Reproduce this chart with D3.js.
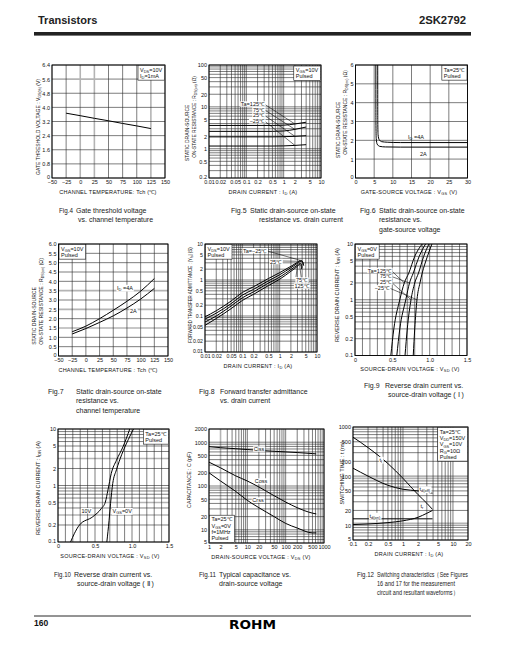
<!DOCTYPE html>
<html><head><meta charset="utf-8">
<script src="https://cdn.jsdelivr.net/npm/d3@7/dist/d3.min.js"></script>
<style>html,body{margin:0;padding:0;background:#fff;}svg{display:block;}</style>
</head><body>
<script>
// ---------------- DATA ----------------
// Fig.4
const fig4Temp = [-25, 0, 25, 50, 75, 100, 125];
const fig4Vth = [3.67, 3.53, 3.38, 3.24, 3.09, 2.95, 2.80];
const tempTicks = [-50, -25, 0, 25, 50, 75, 100, 125, 150];
const tempTickLabels = ["−50", "−25", "0", "25", "50", "75", "100", "125", "150"];
const fig4YTicks = [0, 0.8, 1.6, 2.4, 3.2, 4.0, 4.8, 5.6, 6.4];
const fig4YLabels = ["0", "0.8", "1.6", "2.4", "3.2", "4.0", "4.8", "5.6", "6.4"];
// Fig.5
const fig5Id = [0.01, 0.5, 1, 2, 4];
const fig5R125 = [3.6, 3.6, 3.65, 3.9, 4.3];
const fig5R75 = [2.6, 2.6, 2.65, 2.9, 3.3];
const fig5R25 = [1.92, 1.92, 1.94, 1.98, 2.05];
const fig5Rm25 = [1.16, 1.16, 1.17, 1.2, 1.25];
const fig5Names = ["Ta=125℃", "75℃", "25℃", "−25℃"];
const idTicks3 = [0.01, 0.02, 0.05, 0.1, 0.2, 0.5, 1, 2, 5, 10];
const idTickLabels3 = ["0.01", "0.02", "0.05", "0.1", "0.2", "0.5", "1", "2", "5", "10"];
const fig5YTicks = [0.2, 0.5, 1, 2, 5, 10, 20, 50, 100];
const fig5YLabels = ["0.2", "0.5", "1", "2", "5", "10", "20", "50", "100"];
// Fig.6
const fig6Vgs4A = [5.95, 5.97, 6.05, 6.3, 7, 8.5, 12, 30];
const fig6R4A = [6, 3, 2.3, 2.05, 1.93, 1.9, 1.88, 1.88];
const fig6Vgs2A = [5.45, 5.47, 5.55, 5.8, 6.5, 8, 12, 30];
const fig6R2A = [6, 3, 2.1, 1.8, 1.68, 1.65, 1.64, 1.64];
const fig6XTicks = [0, 5, 10, 15, 20, 25, 30];
const fig6XLabels = ["0", "5", "10", "15", "20", "25", "30"];
const fig6YTicks = [0, 1, 2, 3, 4, 5, 6];
const fig6YLabels = ["0", "1", "2", "3", "4", "5", "6"];
// Fig.7
const fig7Temp = [-25, 0, 25, 50, 75, 100, 125];
const fig7R4A = [1.30, 1.60, 2.00, 2.45, 2.93, 3.47, 4.15];
const fig7R2A = [1.18, 1.47, 1.80, 2.15, 2.57, 3.05, 3.62];
const fig7YTicks = [0, 0.5, 1, 1.5, 2, 2.5, 3, 3.5, 4, 4.5, 5, 5.5, 6];
const fig7YLabels = ["0", "0.5", "1.0", "1.5", "2.0", "2.5", "3.0", "3.5", "4.0", "4.5", "5.0", "5.5", "6.0"];
// Fig.8
const fig8Idm25 = [0.01, 0.02, 0.05, 0.1, 0.2, 0.5, 1, 2, 3, 3.6, 4.0, 4.3];
const fig8Ym25 = [0.095, 0.14, 0.26, 0.45, 0.65, 1.1, 1.6, 2.4, 3.1, 3.5, 3.4, 2.6];
const fig8Id25 = [0.01, 0.02, 0.05, 0.1, 0.2, 0.5, 1, 2, 3, 3.7, 4.1, 4.4];
const fig8Y25 = [0.082, 0.12, 0.22, 0.38, 0.55, 0.95, 1.4, 2.2, 2.9, 3.3, 3.2, 2.5];
const fig8Id75 = [0.01, 0.02, 0.05, 0.1, 0.2, 0.5, 1, 2, 3, 3.5, 3.8, 4.0];
const fig8Y75 = [0.068, 0.10, 0.19, 0.32, 0.47, 0.82, 1.2, 1.95, 2.6, 2.9, 2.8, 2.2];
const fig8Id125 = [0.01, 0.02, 0.05, 0.1, 0.2, 0.5, 1, 2, 3, 3.4, 3.7, 3.9];
const fig8Y125 = [0.055, 0.085, 0.16, 0.27, 0.40, 0.70, 1.05, 1.75, 2.4, 2.7, 2.6, 2.0];
const fig8YTicks = [0.01, 0.02, 0.05, 0.1, 0.2, 0.5, 1, 2, 5, 10];
const fig8YLabels = ["0.01", "0.02", "0.05", "0.1", "0.2", "0.5", "1", "2", "5", "10"];
// Fig.9  (x = VSD, y = IDR)
const fig9V125 = [0.48, 0.52, 0.60, 0.66, 0.72, 0.80, 0.90];
const fig9V75 = [0.56, 0.60, 0.68, 0.73, 0.78, 0.86, 0.945];
const fig9V25 = [0.67, 0.70, 0.75, 0.80, 0.85, 0.92, 0.99];
const fig9Vm25 = [0.78, 0.80, 0.83, 0.87, 0.90, 0.97, 1.03];
const fig9I = [0.1, 0.3, 1, 2, 3, 6, 10];
const vsdTicks = [0, 0.5, 1.0, 1.5];
const vsdTickLabels = ["0", "0.5", "1.0", "1.5"];
const idrTicks = [0.1, 0.2, 0.5, 1, 2, 5, 10];
const idrTickLabels = ["0.1", "0.2", "0.5", "1", "2", "5", "10"];
// Fig.10
const fig10V0 = [0.66, 0.69, 0.71, 0.74, 0.79, 0.86, 0.95, 1.02];
const fig10I0 = [0.1, 0.24, 0.48, 1.09, 1.9, 3.5, 6.5, 10];
const fig10V10 = [0.17, 0.22, 0.29, 0.47, 0.585, 0.64, 0.675, 0.72, 0.79, 0.88, 0.97];
const fig10I10 = [0.1, 0.14, 0.2, 0.28, 0.39, 0.51, 0.83, 1.64, 2.8, 4.9, 10];
// Fig.11
const fig11Vds = [1, 2, 5, 10, 20, 50, 100, 200, 500, 630];
const fig11Ciss = [790, 750, 710, 680, 650, 620, 600, 580, 550, 540];
const fig11Coss = [350, 260, 170, 130, 95, 60, 43, 32, 24, 23];
const fig11Crss = [200, 130, 75, 47, 32, 20, 14, 11, 8.5, 8.5];
const fig11XTicks = [1, 2, 5, 10, 20, 50, 100, 200, 500, 1000];
const fig11XLabels = ["1", "2", "5", "10", "20", "50", "100", "200", "500", "1000"];
const fig11YTicks = [5, 10, 20, 50, 100, 200, 500, 1000, 2000];
const fig11YLabels = ["5", "10", "20", "50", "100", "200", "500", "1000", "2000"];
// Fig.12
const fig12Id = [0.1, 0.2, 0.5, 1, 2, 3, 3.9];
const fig12Tf = [620, 380, 180, 90, 42, 28, 21];
const fig12Tdoff = [145, 100, 65, 54, 50, 47, 45];
const fig12Tr = [10.3, 10.6, 11.3, 12.3, 14.5, 17.5, 20];
const fig12Tdon = [13.5, 13.5, 13.5, 13.5, 13.5, 13.5, 13.5];
const fig12XTicks = [0.1, 0.2, 0.5, 1, 2, 5, 10, 20];
const fig12XLabels = ["0.1", "0.2", "0.5", "1", "2", "5", "10", "20"];
const fig12YTicks = [5, 10, 20, 50, 100, 200, 500, 1000];
const fig12YLabels = ["5", "10", "20", "50", "100", "200", "500", "1000"];

// ---------------- HELPERS ----------------
const FONT = "'Liberation Sans', Arial, Helvetica, sans-serif";
const TS = 5.5; // small text size
const svg = d3.select("body").append("svg").attr("width", 505).attr("height", 649);
svg.append("rect").attr("width", 505).attr("height", 649).attr("fill", "#fff");

function zip(a, b) { return a.map((v, i) => [v, b[i]]); }

function logGrid(lo, hi) {
  const v = [];
  const e0 = Math.floor(Math.log10(lo) + 1e-9), e1 = Math.ceil(Math.log10(hi));
  for (let e = e0; e <= e1; e++) for (let m = 1; m <= 9; m++) {
    const val = +(m * Math.pow(10, e)).toPrecision(6);
    if (val >= lo * 0.9999 && val <= hi * 1.0001) v.push(val);
  }
  return v;
}

function richText(parent, str, size, attrs) {
  const t = parent.append("text").attr("font-family", FONT).attr("font-size", size).attr("fill", "#111");
  Object.entries(attrs || {}).forEach(([k, v]) => t.attr(k, v));
  const parts = str.split(/(_\{[^}]*\})/).filter(s => s.length);
  let sub = false;
  parts.forEach(p => {
    if (p.startsWith("_{")) {
      t.append("tspan").attr("font-size", size * 0.72).attr("dy", size * 0.25).text(p.slice(2, -1));
      sub = true;
    } else {
      const ts = t.append("tspan").text(p);
      if (sub) { ts.attr("dy", -size * 0.25); sub = false; }
    }
  });
  return t;
}

function bgLabel(g, x, y, str, anchor, size) {
  const t = richText(g, str, size || TS, { x: x, y: y, "text-anchor": anchor || "start" });
  const b = t.node().getBBox();
  g.insert("rect", () => t.node()).attr("x", b.x - 0.6).attr("y", b.y + 0.3)
    .attr("width", b.width + 1.2).attr("height", b.height - 0.6).attr("fill", "#fff");
  return t;
}

function legendBox(g, lines, x, y, anchor) {
  const grp = g.append("g");
  const lh = TS * 1.15;
  const texts = lines.map((s, i) => richText(grp, s, TS, { x: 2, y: (i + 1) * lh - 0.3 }));
  const w = d3.max(texts, t => t.node().getBBox().width) + 4;
  const h = lines.length * lh + 2;
  let bx = x, by = y;
  if (anchor === "tr") bx = x - w;
  if (anchor === "bl") by = y - h;
  grp.insert("rect", ":first-child").attr("width", w).attr("height", h)
    .attr("fill", "#fff").attr("stroke", "#111").attr("stroke-width", 0.6);
  grp.attr("transform", `translate(${bx},${by})`);
}

function panel(o) {
  const g = svg.append("g");
  const x = (o.xlog ? d3.scaleLog() : d3.scaleLinear()).domain(o.xd).range([o.l, o.r]);
  const y = (o.ylog ? d3.scaleLog() : d3.scaleLinear()).domain(o.yd).range([o.b, o.t]);
  const xg = o.xgrid || (o.xlog ? logGrid(o.xd[0], o.xd[1]) : o.xt);
  const yg = o.ygrid || (o.ylog ? logGrid(o.yd[0], o.yd[1]) : o.yt);
  // soft (greyish, scanned-looking) grid lines
  const soft = g.append("g").attr("stroke", "#b4b4b4").attr("stroke-width", 1.6);
  soft.selectAll("line.v").data(o.xsoft || []).join("line").attr("class", "v")
    .attr("x1", d => x(d)).attr("x2", d => x(d)).attr("y1", o.t).attr("y2", o.b);
  soft.selectAll("line.h").data(o.ysoft || []).join("line").attr("class", "h")
    .attr("y1", d => y(d)).attr("y2", d => y(d)).attr("x1", o.l).attr("x2", o.r);
  const grid = g.append("g").attr("stroke", "#262626").attr("stroke-width", 0.6);
  grid.selectAll("line.v").data(xg.filter(d => !(o.xsoft || []).includes(d))).join("line").attr("class", "v")
    .attr("x1", d => x(d)).attr("x2", d => x(d)).attr("y1", o.t).attr("y2", o.b);
  grid.selectAll("line.h").data(yg.filter(d => !(o.ysoft || []).includes(d))).join("line").attr("class", "h")
    .attr("y1", d => y(d)).attr("y2", d => y(d)).attr("x1", o.l).attr("x2", o.r);
  const ax = g.append("g").attr("transform", `translate(0,${o.b})`)
    .call(d3.axisBottom(x).tickValues(o.xt).tickFormat((d, i) => o.xl[i]).tickSize(0).tickPadding(2.5));
  const ay = g.append("g").attr("transform", `translate(${o.l},0)`)
    .call(d3.axisLeft(y).tickValues(o.yt).tickFormat((d, i) => o.yl[i]).tickSize(0).tickPadding(2));
  [ax, ay].forEach(a => {
    a.select(".domain").remove();
    a.selectAll("text").attr("font-family", FONT).attr("font-size", o.ts || TS).attr("fill", "#111");
  });
  ay.selectAll("text").attr("dy", (d, i) => i === 0 ? "0.1em" : "0.35em");
  g.append("rect").attr("x", o.l).attr("y", o.t).attr("width", o.r - o.l).attr("height", o.b - o.t)
    .attr("fill", "none").attr("stroke", "#000").attr("stroke-width", 0.9);
  // axis titles
  richText(g, o.xTitle, TS, { x: o.xtX, y: o.b + 15.5, "text-anchor": "middle", "letter-spacing": 0.25 });
  o.yTitles.forEach(yt => {
    const t = richText(g, yt.s, TS, { "text-anchor": "middle" });
    const k = yt.len ? Math.min(1, yt.len / t.node().getBBox().width) : 1;
    t.attr("transform", `translate(${yt.x},${yt.c}) rotate(-90) scale(${k})`);
  });
  const curves = g.append("g");
  const line = d3.line().x(d => x(d[0])).y(d => y(d[1])).curve(d3.curveMonotoneX);
  return { g, x, y, curves, line };
}

function drawCurve(p, pts, color, width) {
  p.curves.append("path").attr("d", p.line(pts)).attr("fill", "none")
    .attr("stroke", color || "#000").attr("stroke-width", width || 1.0);
}

function leader(p, x1, y1, pt) {
  p.g.append("line").attr("x1", x1).attr("y1", y1).attr("x2", p.x(pt[0])).attr("y2", p.y(pt[1]))
    .attr("stroke", "#000").attr("stroke-width", 0.55);
}

function fitWidth(t, w) {
  const cur = t.node().getComputedTextLength();
  if (w && cur > w) t.attr("textLength", w).attr("lengthAdjust", "spacingAndGlyphs");
}

function caption(fx, tx, y0, fig, lines, indents, widths) {
  const g = svg.append("g").attr("font-family", FONT).attr("font-size", 7).attr("fill", "#222");
  const f = g.append("text").attr("x", fx).attr("y", y0).text(fig);
  fitWidth(f, tx - fx - 3);
  lines.forEach((s, i) => {
    const t = g.append("text").attr("x", tx + (indents ? indents[i] : 0)).attr("y", y0 + i * 9.3).text(s);
    if (widths) t.attr("textLength", widths[i]).attr("lengthAdjust", "spacingAndGlyphs");
  });
}

// ---------------- HEADER / FOOTER ----------------
svg.append("text").attr("x", 38).attr("y", 24).attr("font-family", FONT).attr("font-weight", "bold")
  .attr("font-size", 11).attr("fill", "#222").text("Transistors");
svg.append("text").attr("x", 466).attr("y", 24).attr("text-anchor", "end").attr("font-family", FONT)
  .attr("font-weight", "bold").attr("font-size", 11.3).attr("fill", "#222").text("2SK2792");
svg.append("rect").attr("x", 34).attr("y", 32).attr("width", 437).attr("height", 3.6).attr("fill", "#222");
svg.append("line").attr("x1", 34).attr("x2", 471).attr("y1", 616).attr("y2", 616).attr("stroke", "#111").attr("stroke-width", 0.9);
svg.append("text").attr("x", 34).attr("y", 626).attr("font-family", FONT).attr("font-weight", "bold")
  .attr("font-size", 8.5).attr("fill", "#111").text("160");
svg.append("text").attr("x", 229).attr("y", 629.3).attr("font-family", "'DejaVu Sans', sans-serif").attr("font-weight", "bold")
  .attr("font-size", 11.8).attr("textLength", 47).attr("lengthAdjust", "spacingAndGlyphs").attr("fill", "#000").text("ROHM");

// ---------------- FIG.4 ----------------
const p4 = panel({ l: 52, r: 165, t: 65, b: 178, xd: [-50, 150], yd: [0, 6.4],
  xt: tempTicks, xl: tempTickLabels, yt: fig4YTicks, yl: fig4YLabels, xsoft: [0, 25, 125], ysoft: [5.6],
  xTitle: "CHANNEL TEMPERATURE: Tch (℃)", xtX: 108,
  yTitles: [{ s: "GATE THRESHOLD VOLTAGE : V_{GS(th)} (V)", x: 39.5, c: 127, len: 96 }] });
drawCurve(p4, zip(fig4Temp, fig4Vth));
legendBox(p4.g, ["V_{DS}=10V", "I_{D}=1mA"], 164.5, 65.5, "tr");
caption(59, 76, 213, "Fig.4", ["Gate threshold voltage", "vs. channel temperature"], [0, 2]);

// ---------------- FIG.5 ----------------
const p5 = panel({ l: 209, r: 321, t: 65, b: 178, xlog: true, ylog: true, xd: [0.01, 10], yd: [0.2, 100],
  xt: idTicks3, xl: idTickLabels3, yt: fig5YTicks, yl: fig5YLabels,
  xTitle: "DRAIN CURRENT : I_{D} (A)", xtX: 263,
  yTitles: [{ s: "STATIC DRAIN-SOURCE", x: 189, c: 133, len: 57 }, { s: "ON-STATE RESISTANCE : R_{DS(on)} (Ω)", x: 195.5, c: 117, len: 82 }] });
const fig5All = [fig5R125, fig5R75, fig5R25, fig5Rm25];
fig5All.forEach(r => drawCurve(p5, zip(fig5Id, r)));
fig5Names.forEach((n, i) => {
  const yy = 106 + i * 5.6;
  leader(p5, 264.5, yy - 1.8, [fig5Id[3], fig5All[i][3]]);
  bgLabel(p5.g, 264, yy, n, "end");
});
legendBox(p5.g, ["V_{GS}=10V", "Pulsed"], 320.5, 66, "tr");
caption(231, 250, 213, "Fig.5", ["Static drain-source on-state", "resistance vs. drain current"], [0, 9]);

// ---------------- FIG.6 ----------------
const p6 = panel({ l: 355.5, r: 467.5, t: 65, b: 178, xd: [0, 30], yd: [0, 6],
  xt: fig6XTicks, xl: fig6XLabels, yt: fig6YTicks, yl: fig6YLabels, ysoft: [1],
  xTitle: "GATE-SOURCE VOLTAGE : V_{GS} (V)", xtX: 409,
  yTitles: [{ s: "STATIC DRAIN-SOURCE", x: 339.5, c: 130, len: 57 }, { s: "ON-STATE RESISTANCE : R_{DS(on)} (Ω)", x: 347, c: 112.5, len: 85 }] });
drawCurve(p6, zip(fig6Vgs4A, fig6R4A));
drawCurve(p6, zip(fig6Vgs2A, fig6R2A));
richText(p6.g, "I_{D} =4A", TS, { x: 408, y: 139 });
richText(p6.g, "2A", TS, { x: 420, y: 156 });
legendBox(p6.g, ["Ta=25℃", "Pulsed"], 467, 65.5, "tr");
caption(360, 379, 213, "Fig.6", ["Static drain-source on-state", "resistance vs.", "gate-source voltage"]);

// ---------------- FIG.7 ----------------
const p7 = panel({ l: 58.5, r: 168, t: 244, b: 356, xd: [-50, 150], yd: [0, 6],
  xt: tempTicks, xl: tempTickLabels, yt: fig7YTicks, yl: fig7YLabels, ysoft: [1.5, 2.5, 3.5],
  xTitle: "CHANNEL TEMPERATURE : Tch (℃)", xtX: 108,
  yTitles: [{ s: "STATIC DRAIN-SOURCE", x: 36, c: 316, len: 58 }, { s: "ON-STATE RESISTANCE : R_{DS(on)} (Ω)", x: 42.5, c: 301.5, len: 87 }] });
drawCurve(p7, zip(fig7Temp, fig7R4A));
drawCurve(p7, zip(fig7Temp, fig7R2A));
bgLabel(p7.g, 117, 289.5, "I_{D} =4A", "start");
bgLabel(p7.g, 130, 313, "2A", "start");
legendBox(p7.g, ["V_{GS}=10V", "Pulsed"], 59, 244.5, "tl");
caption(48, 76, 394, "Fig.7", ["Static drain-source on-state", "resistance vs.", "channel temperature"]);

// ---------------- FIG.8 ----------------
const p8 = panel({ l: 205, r: 317, t: 244, b: 352, xlog: true, ylog: true, xd: [0.01, 10], yd: [0.01, 10],
  xt: idTicks3, xl: idTickLabels3, yt: fig8YTicks, yl: fig8YLabels, ysoft: [0.07, 0.8], ts: 5.2,
  xTitle: "DRAIN CURRENT : I_{D} (A)", xtX: 258,
  yTitles: [{ s: "FORWARD TRANSFER ADMITTANCE : |Y_{fs}| (S)", x: 191.5, c: 295, len: 96 }] });
drawCurve(p8, zip(fig8Idm25, fig8Ym25));
drawCurve(p8, zip(fig8Id25, fig8Y25));
drawCurve(p8, zip(fig8Id75, fig8Y75));
drawCurve(p8, zip(fig8Id125, fig8Y125));
leader(p8, 267.5, 251, [fig8Idm25[9], fig8Ym25[9]]);
leader(p8, 282.5, 261, [fig8Id25[9], fig8Y25[9]]);
leader(p8, 296, 277, [fig8Id75[8], fig8Y75[8]]);
leader(p8, 302, 283, [fig8Id125[9], fig8Y125[9]]);
bgLabel(p8.g, 243, 252.7, "Ta=−25℃", "start");
bgLabel(p8.g, 270, 263.5, "25℃", "start");
bgLabel(p8.g, 296, 282, "75℃", "start");
bgLabel(p8.g, 294.5, 288, "125℃", "start");
legendBox(p8.g, ["V_{DS}=10V", "Pulsed"], 205.5, 244.5, "tl");
caption(199, 220, 394, "Fig.8", ["Forward transfer admittance", "vs. drain current"]);

// ---------------- FIG.9 ----------------
const p9 = panel({ l: 355, r: 467, t: 244, b: 355.5, ylog: true, xd: [0, 1.5], yd: [0.1, 10],
  xt: vsdTicks, xl: vsdTickLabels, yt: idrTicks, yl: idrTickLabels, xgrid: d3.range(0, 1.51, 0.1), ysoft: [3],
  xTitle: "SOURCE-DRAIN VOLTAGE : V_{SD} (V)", xtX: 410,
  yTitles: [{ s: "REVERSE DRAIN CURRENT : I_{DR} (A)", x: 338.5, c: 295, len: 103 }] });
const fig9All = [fig9V125, fig9V75, fig9V25, fig9Vm25];
fig9All.forEach(v => drawCurve(p9, zip(v, fig9I)));
const fig9Names = ["Ta=125℃", "75℃", "25℃", "−25℃"];
const fig9LabX = [391, 391, 391, 389];
const fig9Target = [3, 3, 2, 2];
fig9Names.forEach((n, i) => {
  const yy = 272.5 + i * 5.8;
  leader(p9, fig9LabX[i] + 0.5, yy - 1.8, [fig9All[i][fig9Target[i]], fig9I[fig9Target[i]]]);
  bgLabel(p9.g, fig9LabX[i], yy, n, "end");
});
legendBox(p9.g, ["V_{GS}=0V", "Pulsed"], 355.5, 244.5, "tl");
caption(364, 385, 387.5, "Fig.9", ["Reverse drain current vs.", "source-drain voltage ( Ⅰ )"], [0, 3]);

// ---------------- FIG.10 ----------------
const p10 = panel({ l: 58, r: 169, t: 429, b: 542, ylog: true, xd: [0, 1.5], yd: [0.1, 10],
  xt: vsdTicks, xl: vsdTickLabels, yt: idrTicks, yl: idrTickLabels, xgrid: d3.range(0, 1.51, 0.1), ysoft: [3, 0.5, 0.3],
  xTitle: "SOURCE-DRAIN VOLTAGE : V_{SD} (V)", xtX: 110,
  yTitles: [{ s: "REVERSE DRAIN CURRENT : I_{DR} (A)", x: 40, c: 488, len: 100 }] });
drawCurve(p10, zip(fig10V0, fig10I0));
drawCurve(p10, zip(fig10V10, fig10I10));
bgLabel(p10.g, 81.5, 512.7, "10V", "start");
bgLabel(p10.g, 112.5, 512.7, "V_{GS}=0V", "start");
legendBox(p10.g, ["Ta=25℃", "Pulsed"], 168.5, 429.5, "tr");
caption(54, 74, 576.5, "Fig.10", ["Reverse drain current vs.", "source-drain voltage ( Ⅱ )"], [0, 3]);

// ---------------- FIG.11 ----------------
const p11 = panel({ l: 209, r: 324, t: 429, b: 543, xlog: true, ylog: true, xd: [1, 1000], yd: [5, 2000],
  xt: fig11XTicks, xl: fig11XLabels, yt: fig11YTicks, yl: fig11YLabels, xsoft: [2, 900],
  xTitle: "DRAIN-SOURCE VOLTAGE : V_{DS} (V)", xtX: 261,
  yTitles: [{ s: "CAPACITANCE : C (pF)", x: 190.5, c: 480, len: 56 }] });
drawCurve(p11, zip(fig11Vds, fig11Ciss));
drawCurve(p11, zip(fig11Vds, fig11Coss));
drawCurve(p11, zip(fig11Vds, fig11Crss));
bgLabel(p11.g, 259, 451, "Ciss", "middle");
bgLabel(p11.g, 261, 483, "Coss", "middle");
bgLabel(p11.g, 258, 502, "Crss", "middle");
legendBox(p11.g, ["Ta=25℃", "V_{GS}=0V", "f=1MHz", "Pulsed"], 209.5, 542.5, "bl");
caption(199, 219, 576.5, "Fig.11", ["Typical capacitance vs.", "drain-source voltage"]);

// ---------------- FIG.12 ----------------
const p12 = panel({ l: 353, r: 468, t: 427, b: 540, xlog: true, ylog: true, xd: [0.1, 20], yd: [5, 1000],
  xt: fig12XTicks, xl: fig12XLabels, yt: fig12YTicks, yl: fig12YLabels, ysoft: [80, 90, 11], xsoft: [0.3],
  xTitle: "DRAIN CURRENT : I_{D} (A)", xtX: 409,
  yTitles: [{ s: "SWITCHING TIME : t (ns)", x: 343.5, c: 473, len: 83 }] });
drawCurve(p12, zip(fig12Id, fig12Tf));
drawCurve(p12, zip(fig12Id, fig12Tdoff));
drawCurve(p12, zip(fig12Id, fig12Tr));
drawCurve(p12, zip(fig12Id, fig12Tdon));
bgLabel(p12.g, 379.5, 461.5, "t_{f}", "start");
bgLabel(p12.g, 419.5, 491, "t_{d(off)}", "start");
bgLabel(p12.g, 420.5, 508, "t_{r}", "start");
bgLabel(p12.g, 369.5, 517.5, "t_{d(on)}", "start");
legendBox(p12.g, ["Ta=25℃", "V_{DD}=150V", "V_{GS}=10V", "R_{G}=10Ω", "Pulsed"], 467.5, 427.5, "tr");
caption(357, 377, 576.5, "Fig.12", ["Switching characteristics（See Figures", "16 and 17 for the measurement", "circuit and resultant waveforms）"], null, [91, 78, 81]);
</script>
</body></html>
